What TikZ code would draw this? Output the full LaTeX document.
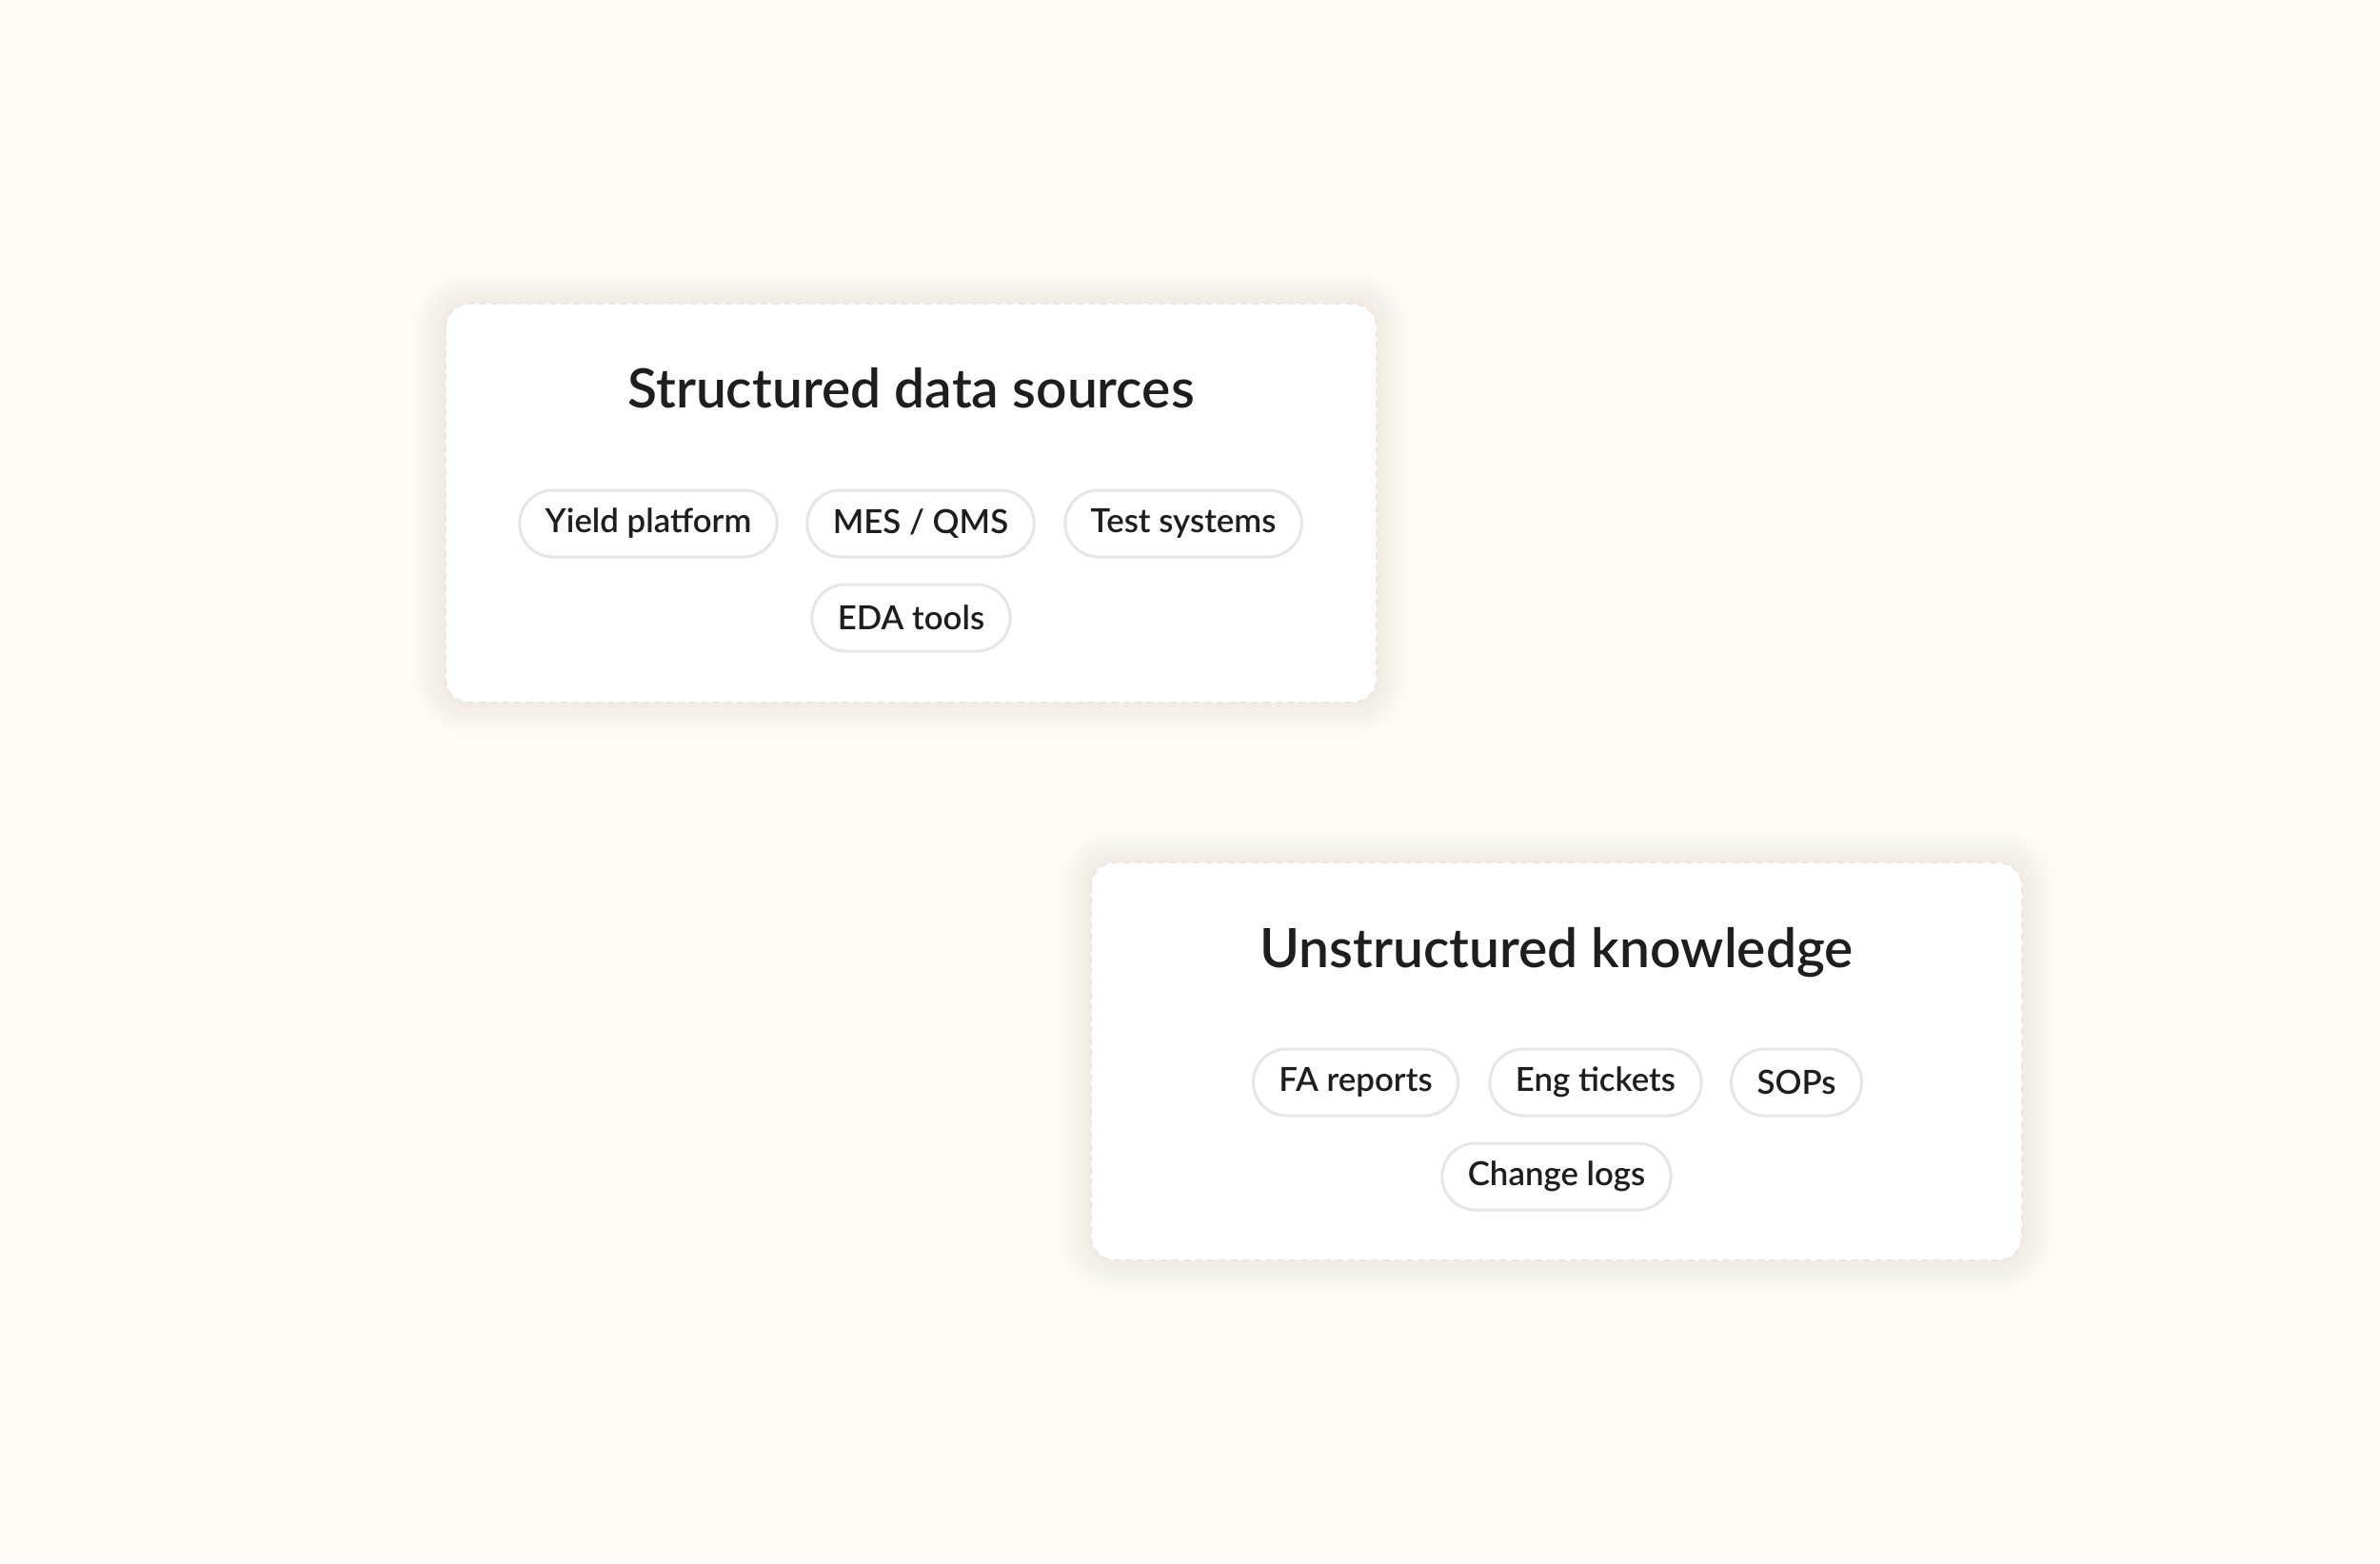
\documentclass[tikz,border=0pt]{standalone}
\usepackage{fontspec}
\setmainfont{Lato Semibold}
\usetikzlibrary{positioning}

\definecolor{paper}{HTML}{FCFBF5}
\definecolor{glow}{HTML}{F3D2B2}
\definecolor{cardline}{HTML}{ECE6E1}
\definecolor{pillline}{HTML}{E6E6E6}
\definecolor{ink}{HTML}{1E1E1E}

\tikzset{
  card/.style={draw=cardline, line width=0.5pt, dash pattern=on 2pt off 1.5pt,
    fill=white, rounded corners=0.25cm},
  cardtitle/.style={anchor=base, text=ink, font=\fontsize{16.2}{19}\selectfont},
  pill/.style={draw=pillline, line width=0.03cm, fill=white, rounded corners=0.35cm,
    minimum height=0.7cm, inner xsep=0.27cm, text=ink,
    font=\fontsize{9.9}{11}\selectfont},
}

\begin{document}
\begin{tikzpicture}

  \fill[paper] (0,0) rectangle (25,-16.42);
  \useasboundingbox (0,0) rectangle (25,-16.42);

  % card corners
  \coordinate (s-nw) at (4.68,-3.19);
  \coordinate (s-se) at (14.46,-7.38);
  \coordinate (u-nw) at (11.46,-9.06);
  \coordinate (u-se) at (21.24,-13.24);

  % soft glow round the cards
  \foreach \c in {s,u}
    \foreach \g in {0.02,0.04,...,0.32}{
      \pgfmathsetmacro\r{0.25+\g}
      \fill[glow, opacity=0.013, rounded corners=\r cm]
        ([shift={(-\g,\g)}]\c-nw) rectangle ([shift={(\g,-\g)}]\c-se);
    }

  \draw[card] (s-nw) rectangle (s-se);
  \draw[card] (u-nw) rectangle (u-se);

  \node[cardtitle] (s-title) at (9.57,-4.28)  {Structured data sources};
  \node[cardtitle] (u-title) at (16.35,-10.16) {Unstructured knowledge};

  \begin{scope}[every node/.style={pill}]
    \node (yield) at (6.81,-5.50)  {Yield platform};
    \node (mes)   at (9.67,-5.50)  {MES / QMS};
    \node (test)  at (12.43,-5.50) {Test systems};
    \node (eda)   at (9.57,-6.49)  {EDA tools};

    \node (fa)    at (14.24,-11.37) {FA reports};
    \node (eng)   at (16.76,-11.37) {Eng tickets};
    \node (sops)  at (18.87,-11.37) {SOPs};
    \node (chg)   at (16.35,-12.36) {Change logs};
  \end{scope}

\end{tikzpicture}
\end{document}
